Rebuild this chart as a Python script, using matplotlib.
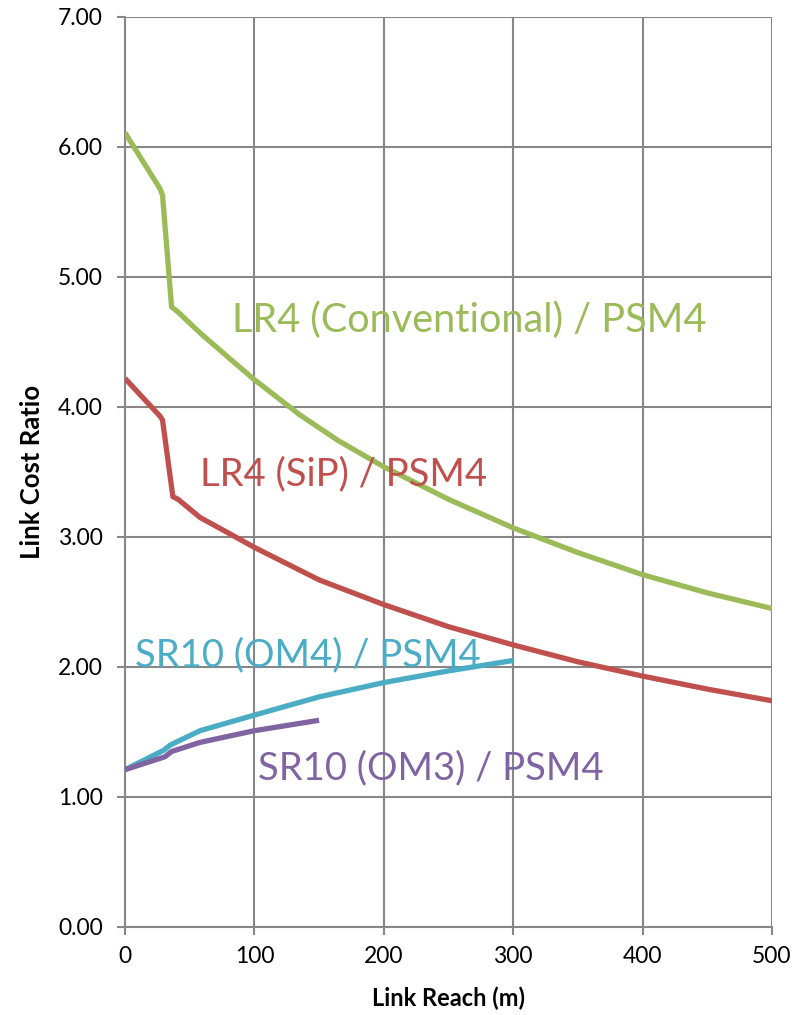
import matplotlib.pyplot as plt
from matplotlib import ticker

plt.rcParams['font.family'] = ['Lato', 'DejaVu Sans']

# link reach (m) and cost ratio per series
lr4_conv_x = [0, 27, 29, 36, 41, 58, 80, 100, 135, 165, 200, 250, 300, 350, 400, 450, 500]
lr4_conv_y = [6.11, 5.68, 5.63, 4.77, 4.73, 4.57, 4.38, 4.21, 3.94, 3.74, 3.54, 3.29,
              3.07, 2.88, 2.71, 2.57, 2.45]

lr4_sip_x = [0, 27, 29, 37, 41, 58, 80, 100, 150, 200, 250, 300, 350, 400, 450, 500]
lr4_sip_y = [4.22, 3.93, 3.90, 3.31, 3.29, 3.15, 3.03, 2.92, 2.67, 2.48, 2.31, 2.17,
             2.04, 1.93, 1.83, 1.74]

sr10_om4_x = [0, 30, 35, 58, 100, 150, 200, 250, 300]
sr10_om4_y = [1.21, 1.36, 1.40, 1.51, 1.63, 1.77, 1.88, 1.97, 2.05]

sr10_om3_x = [0, 28, 31, 36, 58, 100, 150]
sr10_om3_y = [1.21, 1.30, 1.31, 1.35, 1.42, 1.51, 1.59]

series_names = ['LR4 (Conventional) / PSM4', 'LR4 (SiP) / PSM4',
                'SR10 (OM4) / PSM4', 'SR10 (OM3) / PSM4']
series_colors = ['#9BBB59', '#C0504D', '#4BACC6', '#8064A2']
label_pos = [(83, 4.67), (58, 3.48), (8, 2.09), (103, 1.22)]
label_sizes = [28.5, 27.5, 27.5, 27.5]

fig = plt.figure(figsize=(8.09, 10.15), dpi=100)
ax = fig.add_axes([0.1545, 0.0867, 0.7997, 0.8966])

series = [(lr4_conv_x, lr4_conv_y), (lr4_sip_x, lr4_sip_y),
          (sr10_om4_x, sr10_om4_y), (sr10_om3_x, sr10_om3_y)]
for (xs, ys), color in zip(series, series_colors):
    ax.plot(xs, ys, color=color, linewidth=3.8, solid_joinstyle='round',
            solid_capstyle='butt', zorder=3)

for name, color, (tx, ty), size in zip(series_names, series_colors, label_pos, label_sizes):
    ax.text(tx, ty, name, color=color, fontsize=size, va='center', ha='left')

ax.set_xlim(0, 500)
ax.set_ylim(0, 7)
ax.set_xticks(range(0, 501, 100))
ax.set_yticks(range(0, 8))
ax.yaxis.set_major_formatter(ticker.FormatStrFormatter('%.2f'))
ax.grid(True, color='#878787', linewidth=1.5)
ax.set_axisbelow(True)
for side in ['top', 'right']:
    ax.spines[side].set_visible(False)
for side in ['left', 'bottom']:
    ax.spines[side].set_color('#878787')
    ax.spines[side].set_linewidth(1.5)
ax.tick_params(axis='both', direction='out', length=6, width=1.5,
               color='#878787', labelsize=16.5)
ax.tick_params(axis='x', pad=8)
ax.tick_params(axis='y', pad=10)
ax.set_xlabel('Link Reach (m)', fontsize=17, fontweight='bold', labelpad=14)
ax.set_ylabel('Link Cost Ratio', fontsize=18.5, fontweight='bold', labelpad=10)

fig.savefig('out.png', dpi=100)
